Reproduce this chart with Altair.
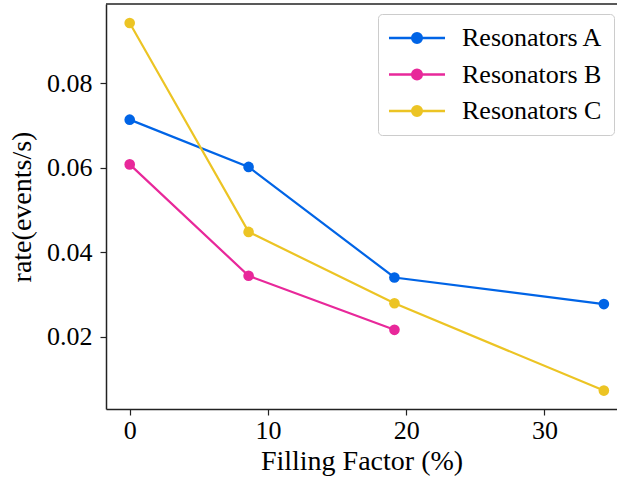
import altair as alt
import pandas as pd

# ---- data ----
fill_x = [0, 8.6, 19.15, 34.3]
rate_a = [0.0714, 0.0602, 0.0340, 0.0277]
rate_b = [0.0608, 0.0344, 0.0216]
rate_c = [0.0943, 0.0448, 0.0279, 0.0072]
series = ["Resonators A", "Resonators B", "Resonators C"]
colors = ["#0064e6", "#e8289a", "#ecc424"]
x_ticks = [0, 10, 20, 30]
y_ticks = [0.02, 0.04, 0.06, 0.08]

rows = []
for name, vals in zip(series, [rate_a, rate_b, rate_c]):
    for xv, yv in zip(fill_x, vals):
        rows.append({"ff": xv, "rate": yv, "series": name})
df = pd.DataFrame(rows)

# legend symbol: horizontal line with a filled dot (built from concentric rings)
def ring(r):
    return f"M{-r},0A{r},{r} 0 1,0 {r},0A{r},{r} 0 1,0 {-r},0"

sym_path = "M-4.67,0L4.67,0" + "".join(ring(r) for r in [0.2, 0.4, 0.6, 0.8])

FONT = "Liberation Serif"
W, H = 511, 405

xscale = alt.Scale(domain=[-1.715, 35.25], nice=False, zero=False)
yscale = alt.Scale(domain=[0.00284, 0.0988], nice=False, zero=False)

legend = alt.Legend(
    title=None, orient="none", legendX=272, legendY=10,
    symbolType=sym_path, symbolSize=144, symbolStrokeWidth=2.5,
    symbolOffset=15, labelOffset=32,
    labelFont=FONT, labelFontSize=26, labelColor="black",
    padding=11, rowPadding=10.5,
    strokeColor="#cccccc", fillColor="white", cornerRadius=4,
)

color = alt.Color("series:N", scale=alt.Scale(domain=series, range=colors), legend=legend)

base = alt.Chart(df).encode(
    x=alt.X("ff:Q", scale=xscale,
            axis=alt.Axis(values=x_ticks, format="d", title="Filling Factor (%)")),
    y=alt.Y("rate:Q", scale=yscale,
            axis=alt.Axis(values=y_ticks, format=".2f", title="rate(events/s)")),
    color=color,
)

lines = base.mark_line(strokeWidth=2.2)
points = base.mark_point(filled=True, size=113, opacity=1)

frame_top = alt.Chart(pd.DataFrame({"k": [0]})).mark_rule(
    color="#222222", strokeWidth=1.5
).encode(x=alt.value(0), x2=alt.value(W), y=alt.value(0))

chart = alt.layer(lines, points, frame_top).properties(
    width=W, height=H,
    autosize=alt.AutoSizeParams(type="none"),
    padding={"left": 106, "top": 4, "right": 0, "bottom": 76},
).configure_view(stroke=None).configure_axis(
    grid=False,
    domainColor="#222222", domainWidth=1.5,
    tickColor="#222222", tickWidth=1.2, tickSize=6,
    labelFont=FONT, labelFontSize=26, labelColor="black",
    titleFont=FONT, titleFontSize=28, titleColor="black", titleFontWeight="normal",
).configure_axisX(
    labelPadding=2, titlePadding=4,
).configure_axisY(
    labelPadding=8, titlePadding=10,
)

chart.save("out.html", embed_options={"renderer": "svg", "actions": False})
